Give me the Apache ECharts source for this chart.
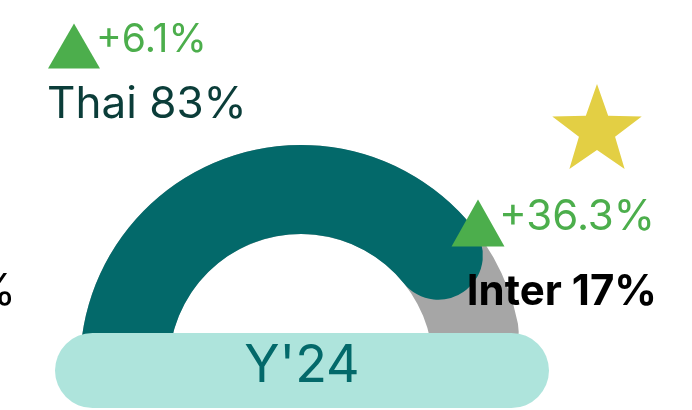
<!DOCTYPE html>
<html>
<head>
<meta charset="UTF-8">
<title>Y'24 share</title>
<script src="https://cdn.jsdelivr.net/npm/echarts@6/dist/echarts.min.js"></script>
<style>
  html, body { margin: 0; padding: 0; background: #fff; }
  #main { width: 692px; height: 410px; }
</style>
</head>
<body>
<div id="main"></div>
<script>
// data
var segments = ['Thai', 'Inter'];
var shares = [83, 17];          // %
var changes = ['+6.1%', '+36.3%'];
var yearLabel = "Y'24";

var TEAL = '#03696a';
var GREY = '#a6a6a6';
var GREEN = '#4cae4c';
var FONT = 'Inter, "Noto Sans", sans-serif';

var chart = echarts.init(document.getElementById('main'));

// small up-triangle helper (decoration only)
function tri(cx, cy, w, h) {
  return {
    type: 'polygon', z: 20,
    shape: { points: [[cx - w / 2, cy + h / 2], [cx + w / 2, cy + h / 2], [cx, cy - h / 2]] },
    style: { fill: GREEN }
  };
}

// text drawn with its top edge at y
function label(txt, x, y, font, fill, align) {
  return {
    type: 'text', z: 20,
    style: { text: txt, x: x, y: y, align: align || 'left', verticalAlign: 'top', font: font, fill: fill }
  };
}

chart.setOption({
  animation: false,
  series: [{
    type: 'gauge',
    center: [301, 366],
    radius: 221,
    startAngle: 175,
    endAngle: 11,
    min: 0,
    max: 100,
    pointer: { show: false },
    progress: { show: true, roundCap: true, width: 89, itemStyle: { color: TEAL } },
    axisLine: { roundCap: true, lineStyle: { width: 89, color: [[1, GREY]] } },
    axisTick: { show: false },
    splitLine: { show: false },
    axisLabel: { show: false },
    title: { show: false },
    detail: { show: false },
    data: [{ value: shares[0], name: segments[0] }]
  }],
  graphic: [
    // year pill
    {
      type: 'rect', z: 10,
      shape: { x: 55, y: 333, width: 494, height: 75, r: 37.5 },
      style: { fill: '#aee4dc' }
    },
    {
      type: 'text', z: 11,
      style: {
        text: yearLabel, x: 302, y: 366, align: 'center', verticalAlign: 'middle',
        font: '400 52px ' + FONT, fill: TEAL
      }
    },
    // Thai
    tri(74, 46, 52, 45),
    label(changes[0], 96, 21, '400 39px ' + FONT, GREEN),
    label(segments[0] + ' ' + shares[0] + '%', 47, 83, '400 44px ' + FONT, '#0b3d39'),
    // Inter
    {
      type: 'polygon', z: 20,
      shape: {
        points: (function () {
          var pts = [], cx = 597, cy = 131, R = 47, r = 19;
          for (var i = 0; i < 10; i++) {
            var a = -Math.PI / 2 + i * Math.PI / 5, rr = i % 2 ? r : R;
            pts.push([cx + rr * Math.cos(a), cy + rr * Math.sin(a)]);
          }
          return pts;
        })()
      },
      style: { fill: '#e3cf44' }
    },
    tri(478, 223, 53, 47),
    label(changes[1], 499, 196, '400 42px ' + FONT, GREEN),
    label(segments[1] + ' ' + shares[1] + '%', 657, 271, '700 42px ' + FONT, '#000', 'right'),
    // cut-off label at the left edge
    label('%', 16, 270, '400 44px ' + FONT, '#000', 'right')
  ]
});
</script>
</body>
</html>
